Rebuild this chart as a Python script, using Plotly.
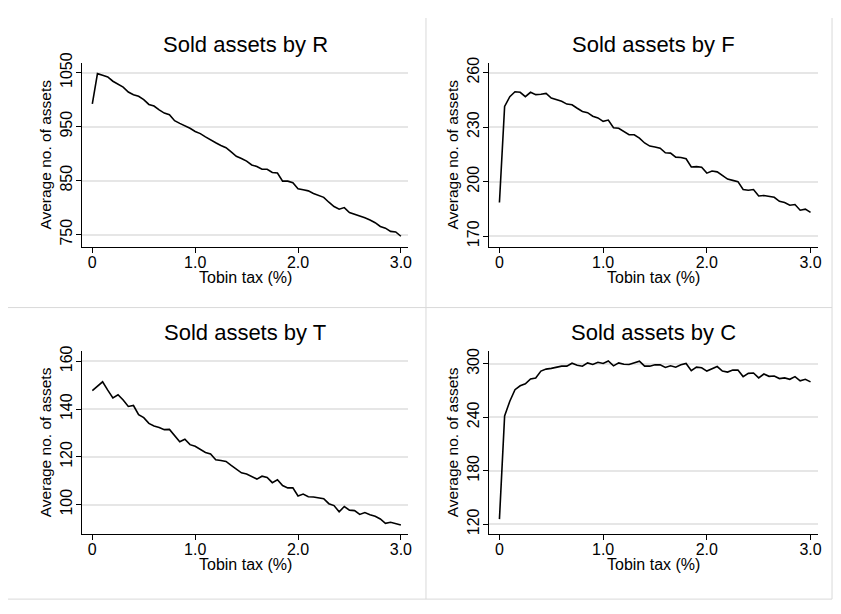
import plotly.graph_objects as go

# Tobin tax levels (%), 0 to 3.0 by 0.05
tax = [round(i * 0.05, 2) for i in range(61)]

sold_r = [992, 1048, 1045, 1042, 1034, 1029, 1023, 1014, 1009, 1006,
          1000, 991, 988, 981, 975, 972, 961, 956, 952, 947,
          941, 937, 931, 925, 920, 915, 911, 903, 895, 891,
          886, 879, 876, 871, 871, 865, 864, 849, 849, 846,
          835, 833, 831, 826, 823, 819, 810, 802, 797, 800,
          791, 788, 785, 781, 777, 772, 765, 762, 756, 755, 747]

sold_f = [188.5, 241.4, 246.8, 249.5, 249.2, 246.8, 249.2, 247.9, 248.1, 248.6,
          246.0, 245.0, 244.3, 242.7, 242.3, 240.4, 238.6, 238.0, 236.0, 235.1,
          233.2, 233.9, 229.7, 229.4, 227.4, 225.8, 225.8, 224.0, 221.3, 219.6,
          219.1, 218.4, 215.9, 215.7, 213.5, 213.3, 212.6, 208.1, 208.3, 207.9,
          204.7, 205.9, 205.4, 203.6, 201.4, 200.7, 200.0, 195.7, 195.3, 195.7,
          192.1, 192.4, 191.9, 191.4, 189.2, 188.5, 187.0, 187.4, 184.3, 184.9, 183.1]

sold_t = [147.7, 149.6, 151.4, 147.9, 144.7, 146.0, 143.8, 141.1, 141.5, 137.7,
          136.4, 134.0, 132.9, 132.3, 131.4, 131.5, 128.8, 126.3, 127.4, 125.1,
          124.4, 123.0, 121.8, 121.2, 118.8, 118.5, 118.1, 116.4, 114.7, 113.3,
          112.8, 111.9, 110.7, 111.9, 111.4, 109.2, 110.4, 108.0, 107.0, 107.0,
          103.6, 104.4, 103.3, 103.2, 103.0, 102.5, 100.4, 99.6, 97.0, 99.2,
          97.7, 97.5, 95.9, 96.7, 95.8, 95.1, 94.0, 92.2, 92.6, 92.1, 91.5]

sold_c = [125.7, 241.5, 258.1, 271.0, 275.4, 277.6, 283.1, 284.2, 291.9, 294.1,
          294.9, 296.0, 297.4, 297.4, 300.7, 298.5, 297.4, 301.1, 299.3, 301.8,
          300.4, 303.3, 297.8, 301.1, 299.6, 299.3, 301.1, 302.9, 297.4, 297.4,
          298.9, 298.9, 296.0, 297.8, 296.3, 298.9, 300.4, 292.3, 296.3, 295.6,
          291.9, 294.9, 297.0, 291.9, 290.8, 293.0, 293.0, 285.7, 289.3, 289.7,
          284.2, 288.6, 286.0, 286.4, 283.5, 284.2, 282.7, 285.7, 280.9, 282.7, 279.8]

titles = ["Sold assets by R", "Sold assets by F", "Sold assets by T", "Sold assets by C"]
series = [sold_r, sold_f, sold_t, sold_c]
y_ticks = [[750, 850, 950, 1050], [170, 200, 230, 260], [100, 120, 140, 160], [120, 180, 240, 300]]
y_ranges = [[727.6, 1068], [164.2, 265.4], [87.7, 164.4], [109, 314.7]]
x_ticks = [0, 1, 2, 3]
x_ticklabels = ["0", "1.0", "2.0", "3.0"]

# the page puts the plot 8px right and 16px down from the window corner
OX, OY = 8, 16
W, H = 841 - OX, 614 - OY
FONT = "Liberation Sans, Arial, sans-serif"

# window-pixel boxes of the four plot areas (left, right, top, bottom)
boxes = [(82.7, 410, 61.7, 249), (491.7, 821.7, 61.7, 249),
         (82.7, 410, 355, 541.7), (491.7, 821.7, 355, 541.7)]


def px(x):
    return (x - OX) / W


def py(y):
    return 1 - (y - OY) / H


fig = go.Figure()
layout = dict(
    width=W, height=H,
    margin=dict(l=0, r=0, t=0, b=0),
    paper_bgcolor="white", plot_bgcolor="white",
    showlegend=False,
    font=dict(family=FONT, color="black"),
)
annotations = []

for i, (ys, title) in enumerate(zip(series, titles)):
    n = "" if i == 0 else str(i + 1)
    fig.add_trace(go.Scatter(
        x=tax, y=ys, mode="lines",
        line=dict(color="black", width=1.6),
        xaxis="x" + n, yaxis="y" + n,
        hoverinfo="x+y",
    ))
    l, r, t, b = boxes[i]
    layout["xaxis" + n] = dict(
        domain=[px(l), px(r)], anchor="y" + n,
        range=[-0.097, 3.07],
        tickvals=x_ticks, ticktext=x_ticklabels,
        showgrid=False, zeroline=False,
        showline=True, linecolor="black", linewidth=1,
        ticks="outside", ticklen=5, tickcolor="black",
        ticklabelstandoff=-4,
        tickfont=dict(size=16),
    )
    layout["yaxis" + n] = dict(
        domain=[py(b), py(t)], anchor="x" + n,
        range=y_ranges[i],
        tickvals=y_ticks[i],
        tickangle=-90,
        showgrid=True, gridcolor="#E6E6E6", gridwidth=1.5,
        zeroline=False,
        showline=True, linecolor="black", linewidth=1,
        ticks="outside", ticklen=5, tickcolor="black",
        ticklabelstandoff=-2,
        tickfont=dict(size=16),
        title=dict(text="Average no. of assets", font=dict(size=15.5), standoff=2),
    )
    annotations.append(dict(
        text=title, xref="paper", yref="paper",
        x=px((l + r) / 2), y=py(t - 19),
        xanchor="center", yanchor="middle",
        showarrow=False, font=dict(size=22, color="black"),
    ))
    annotations.append(dict(
        text="Tobin tax (%)", xref="paper", yref="paper",
        x=px((l + r) / 2), y=py(b + 31),
        xanchor="center", yanchor="middle",
        showarrow=False, font=dict(size=16, color="black"),
    ))

layout["annotations"] = annotations

# panel frames from the combined graph
frame = dict(type="line", xref="paper", yref="paper", line=dict(color="#D9D9D9", width=1))
layout["shapes"] = [
    dict(frame, x0=px(428), x1=px(428), y0=py(608), y1=1),
    dict(frame, x0=px(836), x1=px(836), y0=py(608), y1=1),
    dict(frame, x0=0, x1=px(836), y0=py(311), y1=py(311)),
    dict(frame, x0=0, x1=px(836), y0=py(608), y1=py(608)),
]

fig.update_layout(**layout)
fig.write_html("out.html")
